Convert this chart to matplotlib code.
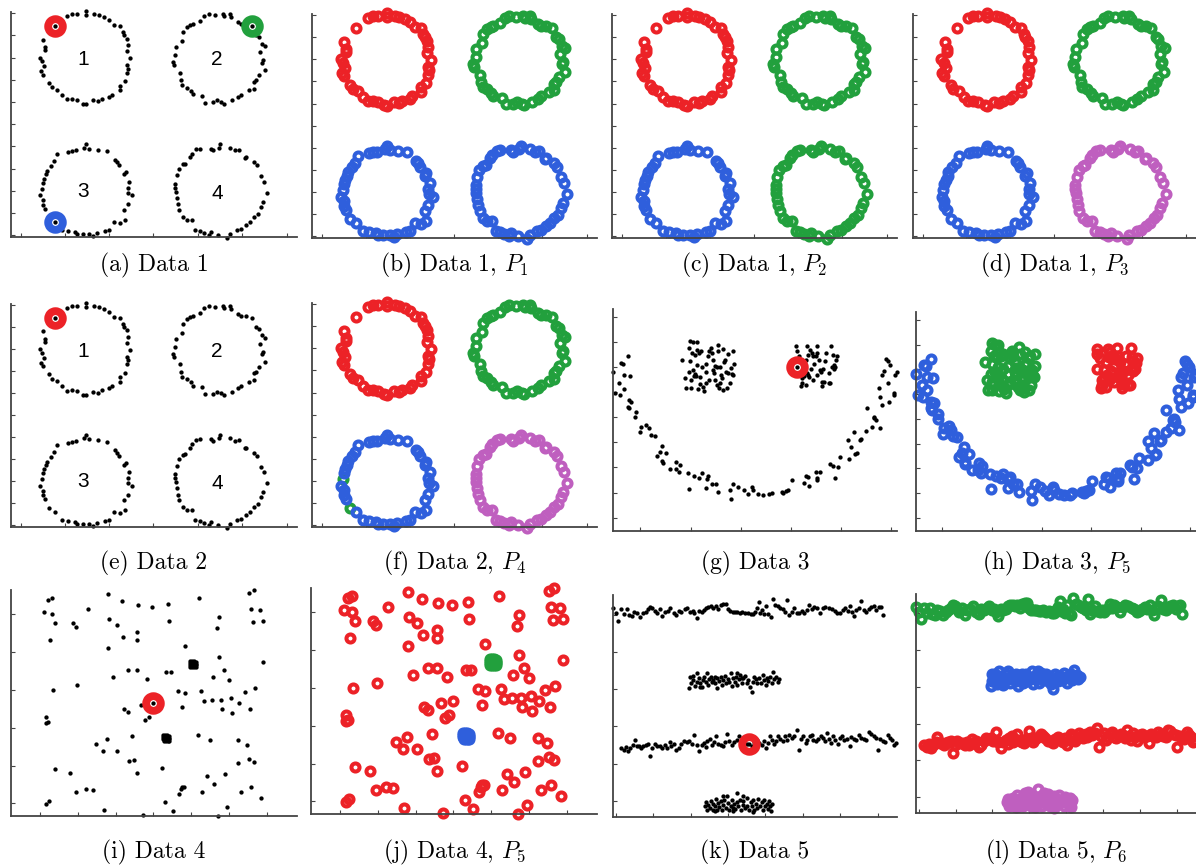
import numpy as np
import matplotlib.pyplot as plt

plt.rcParams['mathtext.fontset'] = 'cm'

RED, GREEN, BLUE, PURPLE = '#ec2227', '#22a03d', '#2f5fdc', '#bf5fbf'

# ---- Data 1 / Data 2 : four noisy rings (units) ----
ring1 = np.array([(165,77),(200,48),(215,42),(230,40),(258,32),(258,44),(283,42),(296,45),(313,51),(328,58),
    (343,73),(360,77),(368,96),(373,104),(380,115),(383,135),(380,153),(390,173),(381,195),(384,205),
    (382,218),(376,243),(361,256),(360,270),(335,283),(328,290),(305,296),(294,303),(279,300),(258,311),
    (250,310),(230,299),(215,296),(200,297),(186,284),(172,268),(155,261),(148,248),(128,223),(122,213),
    (132,197),(119,172),(127,183),(136,150),(136,140),(130,118)])
ring2 = np.array([(755,77),(548,95),(560,80),(570,73),(578,72),(598,62),(612,47),(625,40),(645,43),(668,40),
    (672,47),(688,42),(693,50),(713,65),(723,70),(738,70),(768,105),(775,110),(785,130),(795,137),
    (780,155),(788,180),(785,187),(793,210),(775,225),(768,240),(760,245),(760,265),(745,270),(722,283),
    (712,290),(695,300),(670,310),(663,305),(650,300),(637,306),(615,307),(605,287),(578,282),(572,272),
    (560,262),(546,255),(542,240),(538,218),(520,195),(518,185),(525,165),(527,140),(545,122)])
ring3 = np.array([(165,665),(258,432),(253,442),(228,450),(215,452),(203,455),(172,462),(163,483),(152,497),
    (140,512),(138,522),(133,535),(128,548),(125,565),(120,585),(128,600),(128,613),(135,625),(148,652),
    (185,688),(203,692),(225,695),(232,700),(248,700),(268,700),(280,708),(290,697),(315,693),(327,690),
    (342,665),(360,667),(375,660),(372,628),(383,612),(385,578),(397,585),(383,563),(388,545),(377,515),
    (373,522),(358,495),(352,485),(345,478),(320,452),(293,448),(268,445)])
ring4 = np.array([(660,432),(655,442),(638,450),(632,445),(598,445),(588,447),(575,460),(568,470),(555,490),
    (548,492),(535,505),(530,525),(525,550),(525,562),(527,575),(530,593),(532,612),(537,628),(548,650),
    (560,658),(575,660),(585,688),(598,692),(610,698),(625,705),(632,695),(652,705),(680,712),(688,700),
    (710,688),(722,685),(738,675),(750,665),(762,650),(772,640),(782,620),(787,605),(800,578),(790,545),
    (782,527),(770,495),(760,485),(738,470),(735,472),(715,448),(690,442),(705,450)])
ring_names = ['1', '2', '3', '4']
ring_name_pos = [(250,178), (650,178), (250,572), (652,578)]
# P4 puts these two ring-3 points in the green cluster
p4_green_in_ring3 = [13, 18]

# ---- Data 3 : smile (arc + two squares) ----
arc = np.array([(40,247),(65,220),(70,222),(85,200),(72,255),(57,278),(47,310),(62,315),(73,296),(92,258),
    (87,330),(95,335),(85,350),(88,355),(108,366),(107,382),(125,410),(122,427),(140,405),(147,415),
    (153,435),(165,437),(187,467),(180,485),(200,488),(172,498),(188,512),(190,518),(210,536),(230,516),
    (240,525),(228,538),(237,546),(265,548),(268,596),(283,556),(297,562),(305,549),(320,565),(325,557),
    (318,593),(335,580),(348,580),(353,605),(390,600),(393,627),(400,580),(415,590),(432,600),(445,612),
    (455,590),(458,598),(475,610),(490,614),(508,612),(515,608),(545,605),(550,608),(557,602),(565,599),
    (575,570),(612,578),(617,557),(625,560),(628,588),(648,545),(652,562),(660,545),(652,570),(690,522),
    (697,527),(703,563),(712,530),(718,500),(745,508),(743,450),(752,470),(762,425),(765,493),(770,490),
    (780,450),(783,447),(798,423),(800,355),(815,410),(820,385),(822,382),(826,390),(838,415),(835,295),
    (838,322),(845,345),(845,255),(852,242),(858,208),(863,280),(865,335),(862,215),(870,225),(880,310),
    (880,315),(885,255),(890,245)])
eye_left = np.array([(248,210),(255,265),(258,295),(270,153),(272,293),(268,245),(270,215),(268,175),(277,190),
    (280,158),(285,195),(283,258),(286,253),(290,157),(292,180),(298,190),(293,297),(290,225),(301,260),
    (303,185),(308,290),(300,283),(305,230),(313,303),(318,278),(318,222),(325,198),(328,185),(332,175),
    (335,190),(340,210),(340,240),(343,250),(345,270),(350,285),(352,232),(353,165),(355,185),(360,280),
    (357,295),(362,255),(365,265),(368,300),(370,178),(372,218),(375,212),(378,245),(382,295),(385,250),
    (390,280),(392,235),(395,252),(400,185),(402,222),(398,255),(288,258),(280,240),(272,270),(318,245),
    (326,270),(345,228),(360,230),(385,192)])
eye_right = np.array([(590,230),(588,170),(590,185),(598,198),(602,288),(605,280),(618,285),(612,258),(620,248),
    (625,255),(630,180),(628,260),(632,238),(635,190),(640,270),(642,222),(648,200),(650,168),(652,190),
    (658,210),(660,240),(662,245),(665,288),(665,275),(670,238),(672,275),(678,190),(685,280),(690,278),
    (693,168),(695,232),(697,195),(700,225),(700,238),(705,230),(708,212),(710,198),(622,170),(625,195),
    (612,235),(605,265),(640,200),(652,255),(675,215),(685,250),(618,210)])

# ---- Data 4 : uniform noise + two dense blobs ----
noise = np.array([(458,368),(143,60),(157,53),(325,42),(365,63),(415,75),(455,80),(503,73),(597,53),(745,38),
    (762,30),(133,96),(155,101),(165,128),(218,128),(228,140),(265,86),(328,116),(352,135),(412,157),
    (370,171),(412,180),(150,181),(505,123),(553,197),(650,143),(655,111),(753,87),(780,90),(758,125),
    (788,124),(325,203),(657,232),(670,270),(638,291),(685,300),(787,247),(383,270),(410,270),(498,275),
    (513,275),(338,291),(440,298),(160,331),(230,315),(533,332),(553,340),(602,334),(610,363),(635,361),
    (663,359),(692,355),(717,368),(733,335),(765,323),(665,387),(695,400),(748,388),(545,381),(373,386),
    (385,395),(423,375),(435,419),(447,410),(137,410),(139,428),(143,425),(395,467),(320,476),(287,491),
    (310,512),(350,513),(386,543),(402,541),(593,465),(628,480),(713,480),(740,494),(745,537),(762,545),
    (712,548),(166,566),(209,578),(410,580),(485,564),(620,589),(642,612),(673,583),(227,635),(258,628),
    (278,629),(545,622),(550,620),(542,628),(535,643),(605,636),(722,635),(753,620),(783,654),(147,662),
    (139,673),(313,691),(430,705),(495,665),(517,693),(652,708),(680,682)])
blob_a = np.array([(568,243),(574,244),(580,243),(586,245),(568,249),(575,250),(581,249),(586,251),
    (568,256),(574,255),(580,257),(586,256),(569,261),(575,262),(581,261),(586,260)])
blob_b = np.array([(489,465),(495,466),(501,465),(507,467),(489,471),(496,472),(502,471),(507,473),
    (489,478),(495,477),(501,479),(507,478),(490,483),(496,484),(502,483),(507,482)])

# ---- Data 5 : four horizontal bands ----
band1 = np.array([(40,85),(48,100),(55,122),(65,88),(72,103),(82,87),(88,105),(97,108),(103,95),(112,98),
    (122,110),(130,100),(138,95),(145,87),(152,80),(158,83),(165,92),(172,100),(180,88),(188,108),
    (195,95),(205,92),(212,83),(222,100),(230,105),(237,92),(245,95),(255,88),(262,83),(270,95),
    (278,92),(283,100),(290,113),(298,92),(305,95),(312,90),(318,83),(325,80),(333,78),(340,83),
    (348,78),(355,88),(362,75),(370,72),(378,72),(383,88),(390,93),(398,95),(405,95),(412,97),
    (420,98),(427,95),(435,100),(443,98),(452,103),(460,103),(465,95),(472,85),(477,65),(480,98),
    (487,90),(492,103),(497,77),(505,102),(512,110),(518,57),(525,75),(533,78),(540,85),(548,88),
    (555,95),(562,60),(568,105),(575,95),(582,83),(590,98),(598,100),(605,93),(612,100),(620,90),
    (628,75),(635,88),(642,80),(650,85),(660,100),(668,85),(675,80),(685,83),(695,88),(703,92),
    (710,100),(718,98),(727,90),(735,85),(742,92),(750,78),(755,95),(762,108),(768,90),(775,83),
    (783,62),(790,90),(798,95),(805,88),(812,82),(820,78),(828,90),(835,82),(842,80),(848,105)])
band2 = np.array([(270,290),(268,325),(272,310),(278,300),(280,288),(285,318),(290,305),(292,278),(298,295),
    (300,310),(305,322),(310,300),(313,290),(318,305),(320,278),(325,315),(328,298),(332,292),(335,305),
    (340,300),(345,310),(350,325),(352,295),(358,303),(362,290),(365,315),(370,300),(375,288),(378,310),
    (383,298),(388,305),(393,278),(395,318),(400,295),(405,305),(408,290),(412,315),(418,298),(420,285),
    (425,308),(430,295),(435,288),(440,310),(445,300),(450,320),(455,335),(460,305),(462,290),(468,298),
    (472,310),(478,295),(482,308),(488,285),(492,300),(497,315),(500,295),(505,302),(510,290),(515,308),
    (520,275),(522,298),(528,292),(533,305),(538,298),(300,320),(345,290),(410,278),(425,295)])
band3 = np.array([(447,493),(65,505),(72,510),(78,502),(85,515),(92,505),(100,495),(105,480),(112,500),
    (118,498),(125,505),(130,500),(138,495),(145,492),(152,530),(158,505),(165,492),(172,498),(180,500),
    (188,505),(195,495),(202,505),(210,488),(215,498),(222,492),(230,510),(237,505),(245,492),(252,485),
    (260,488),(268,485),(275,492),(282,465),(290,495),(298,515),(305,495),(312,490),(318,502),(322,485),
    (330,478),(335,495),(342,488),(348,470),(355,492),(362,495),(368,498),(375,488),(382,462),(388,485),
    (395,495),(402,488),(410,480),(418,470),(425,478),(433,485),(440,492),(455,498),(462,488),(470,482),
    (478,490),(485,495),(492,485),(498,505),(503,490),(510,470),(515,480),(522,492),(528,485),(535,468),
    (540,478),(548,485),(555,470),(560,482),(568,465),(575,475),(582,468),(590,452),(597,510),(602,478),
    (610,468),(617,490),(622,482),(630,470),(635,465),(640,480),(648,485),(655,478),(662,470),(668,475),
    (675,485),(680,460),(687,478),(693,490),(698,468),(705,480),(712,492),(718,475),(725,470),(732,480),
    (740,478),(748,500),(752,472),(760,478),(768,482),(775,465),(782,475),(790,478),(798,482),(805,458),
    (812,462),(820,470),(828,475),(833,510),(840,478),(848,485),(855,488),(862,465),(868,475),(875,480),
    (882,495),(887,490)])
band4 = np.array([(315,680),(318,668),(322,690),(325,675),(330,685),(333,665),(338,692),(340,672),(345,680),
    (348,658),(352,690),(355,670),(358,682),(362,665),(365,692),(370,675),(372,660),(378,685),(380,648),
    (385,670),(388,690),(392,678),(395,662),(398,685),(403,672),(405,688),(410,640),(412,668),(415,680),
    (420,660),(422,692),(428,675),(430,665),(435,685),(440,655),(442,678),(448,690),(452,668),(455,680),
    (460,660),(462,692),(468,672),(472,685),(475,658),(480,678),(485,668),(488,690),(492,662),(495,680),
    (500,672),(503,688),(508,665),(510,680),(512,695),(515,672),(345,695),(400,695),(460,698),(430,650),
    (370,650)])

# axis frames (x range, y range top-down) and tick positions per data set
frames = {
    'd1': dict(xlim=(33, 890), ylim=(710, 35), xt=[62,195,328,460,593,726,860],
               yt=[38,105,172,238,305,372,438,505,572,638,705]),
    'd3': dict(xlim=(40, 890), ylim=(722, 58), xt=[120,272,422,572,722,872],
               yt=[82,157,232,307,382,457,532,607,682]),
    'd4': dict(xlim=(33, 890), ylim=(708, 30), xt=[120,233,347,460,573,687,800],
               yt=[103,216,330,443,557,670]),
    'd5': dict(xlim=(40, 890), ylim=(712, 45), xt=[48,160,272,384,496,608,720,832],
               yt=[104,216,328,440,552,664]),
}

W, H = 1196, 866
fig = plt.figure(figsize=(W / 100, H / 100), dpi=100)


def make_ax(box, key):
    l, t, r, b = box
    ax = fig.add_axes([l / W, 1 - b / H, (r - l) / W, (b - t) / H])
    f = frames[key]
    ax.set_xlim(*f['xlim'])
    ax.set_ylim(*f['ylim'])
    ax.set_xticks(f['xt'])
    ax.set_yticks(f['yt'])
    ax.set_xticklabels([])
    ax.set_yticklabels([])
    ax.tick_params(direction='in', length=3, width=0.8, color='#444444')
    for s in ['top', 'right']:
        ax.spines[s].set_visible(False)
    for s in ['left', 'bottom']:
        ax.spines[s].set_color('#444444')
        ax.spines[s].set_linewidth(1.3)
    return ax


def dots(ax, groups):
    for g in groups:
        ax.plot(g[:, 0], g[:, 1], 'o', ms=3.1, color='black', mew=0, clip_on=False)


def seed(ax, pt, color):
    # big hollow ring on top of the dots, hole lets the seed point show
    ax.plot(pt[0], pt[1], 'o', ms=10.6, mew=5.6, mfc='none', mec=color, clip_on=False, zorder=5)


def rings(ax, groups, colors):
    for g, c in zip(groups, colors):
        ax.plot(g[:, 0], g[:, 1], 'o', ms=5.8, mew=2.9, mfc='none', mec=c, clip_on=False)


def caption(box, y, text):
    cx = (box[0] + box[2]) / 2
    fig.text(cx / W, 1 - y / H, text, ha='center', va='center', fontsize=17, family='cmr10')


d1 = [ring1, ring2, ring3, ring4]

# row 1
box = (11, 12, 297, 237)
ax = make_ax(box, 'd1')
dots(ax, d1)
seed(ax, ring1[0], RED)
seed(ax, ring2[0], GREEN)
seed(ax, ring3[0], BLUE)
for name, (tx, ty) in zip(ring_names, ring_name_pos):
    ax.text(tx, ty, name, ha='center', va='center', fontsize=15, family='Liberation Sans')
caption(box, 265, '(a) Data 1')

box = (312, 14, 597, 238)
ax = make_ax(box, 'd1')
rings(ax, d1, [RED, GREEN, BLUE, BLUE])
caption(box, 265, r'(b) Data 1, $P_1$')

box = (612, 14, 897, 238)
ax = make_ax(box, 'd1')
rings(ax, d1, [RED, GREEN, BLUE, GREEN])
caption(box, 265, r'(c) Data 1, $P_2$')

box = (913, 14, 1196, 238)
ax = make_ax(box, 'd1')
rings(ax, d1, [RED, GREEN, BLUE, PURPLE])
caption(box, 265, r'(d) Data 1, $P_3$')

# row 2
box = (11, 304, 297, 527)
ax = make_ax(box, 'd1')
dots(ax, d1)
seed(ax, ring1[0], RED)
for name, (tx, ty) in zip(ring_names, ring_name_pos):
    ax.text(tx, ty, name, ha='center', va='center', fontsize=15, family='Liberation Sans')
caption(box, 563, '(e) Data 2')

box = (312, 303, 597, 527)
ax = make_ax(box, 'd1')
rings(ax, [ring3[p4_green_in_ring3]], [GREEN])
rings(ax, [ring1, ring2, np.delete(ring3, p4_green_in_ring3, axis=0), ring4],
      [RED, GREEN, BLUE, PURPLE])
caption(box, 563, r'(f) Data 2, $P_4$')

box = (613, 309, 897, 531)
ax = make_ax(box, 'd3')
dots(ax, [arc, eye_left, eye_right])
seed(ax, eye_right[0], RED)
caption(box, 563, '(g) Data 3')

box = (916, 312, 1196, 531)
ax = make_ax(box, 'd3')
rings(ax, [arc, eye_left, eye_right], [BLUE, GREEN, RED])
caption(box, 563, r'(h) Data 3, $P_5$')

# row 3
box = (11, 590, 297, 816)
ax = make_ax(box, 'd4')
dots(ax, [noise, blob_a, blob_b])
seed(ax, noise[0], RED)
caption(box, 852, '(i) Data 4')

box = (311, 588, 597, 814)
ax = make_ax(box, 'd4')
rings(ax, [noise, blob_a, blob_b], [RED, GREEN, BLUE])
caption(box, 852, r'(j) Data 4, $P_5$')

box = (613, 595, 897, 817)
ax = make_ax(box, 'd5')
dots(ax, [band1, band2, band3, band4])
seed(ax, band3[0], RED)
caption(box, 852, '(k) Data 5')

box = (916, 594, 1196, 813)
ax = make_ax(box, 'd5')
rings(ax, [band1, band2, band3, band4], [GREEN, BLUE, RED, PURPLE])
caption(box, 852, r'(l) Data 5, $P_6$')

fig.savefig('out.png', dpi=100)
